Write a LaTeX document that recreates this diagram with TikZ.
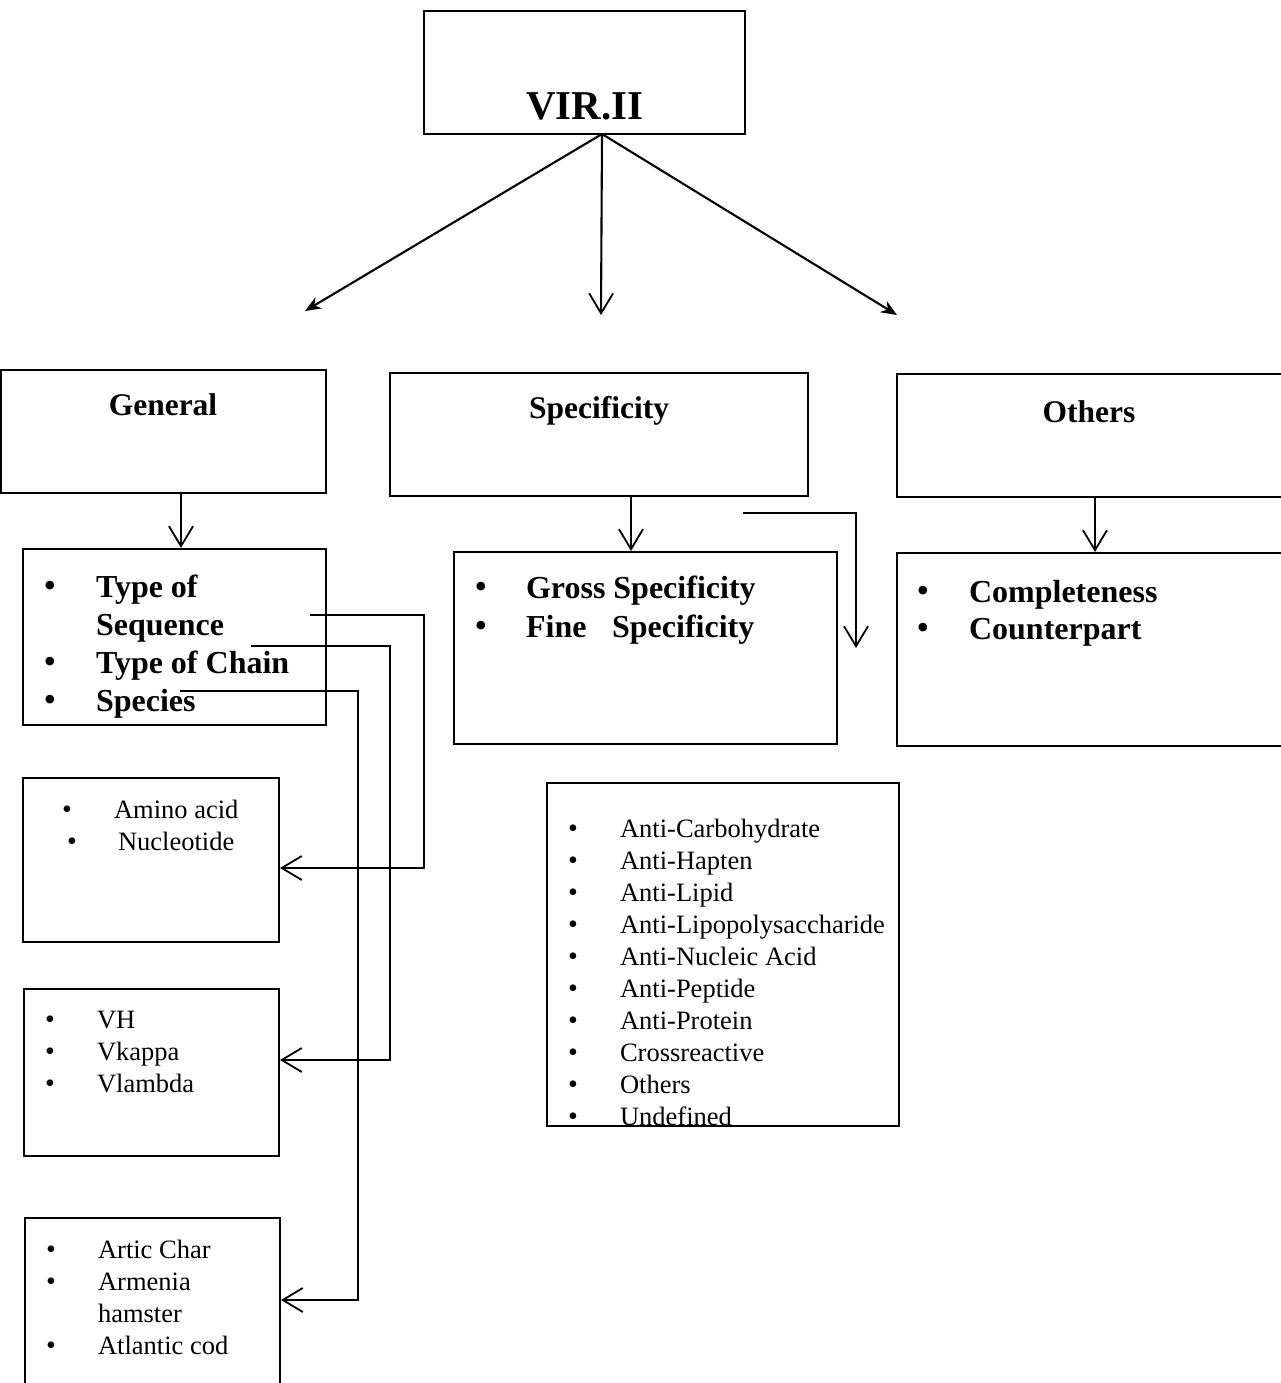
\documentclass[tikz,border=0pt]{standalone}
\usepackage{fontspec}
\setmainfont{Liberation Serif}
\usetikzlibrary{arrows.meta}
\begin{document}
\begin{tikzpicture}[x=1pt,y=-1pt,
  line width=2.1pt,
  box/.style={draw, rectangle, inner sep=0pt, line width=2.1pt},
  openarr/.style={-{Straight Barb[length=20pt,width=24pt,line width=1.8pt]}},
  fillarr/.style={-{Stealth[length=16pt,width=13pt]}},
  head/.style={anchor=base, inner sep=0pt, font=\bfseries\fontsize{31.5}{36}\selectfont},
  btxt/.style={anchor=base west, inner sep=0pt, font=\bfseries\fontsize{32}{38}\selectfont},
  rtxt/.style={anchor=base west, inner sep=0pt, font=\fontsize{26.5}{32}\selectfont},
  bbul/.style={anchor=base, inner sep=0pt, font=\fontsize{36}{38}\selectfont},
  rbul/.style={anchor=base, inner sep=0pt, font=\fontsize{28}{32}\selectfont}]
\useasboundingbox (0,0) rectangle (1281,1383);
\fill[white] (0,0) rectangle (1281,1383);

% boxes
\node[box, minimum width=321pt, minimum height=123pt] (vir) at (584.5,72.5) {};
\node[box, minimum width=325pt, minimum height=123pt] (general) at (163.5,431.5) {};
\node[box, minimum width=418pt, minimum height=123pt] (spec) at (599,434.5) {};
\node[box, minimum width=387pt, minimum height=123pt] (others) at (1090.5,435.5) {};
\node[box, minimum width=303pt, minimum height=176pt] (glist) at (174.5,637) {};
\node[box, minimum width=383pt, minimum height=192pt] (slist) at (645.5,648) {};
\node[box, minimum width=387pt, minimum height=193pt] (olist) at (1090.5,649.5) {};
\node[box, minimum width=256pt, minimum height=164pt] (amino) at (151,860) {};
\node[box, minimum width=255pt, minimum height=167pt] (vh) at (151.5,1072.5) {};
\node[box, minimum width=255pt, minimum height=174pt] (artic) at (152.5,1305) {};
\node[box, minimum width=352pt, minimum height=343pt] (anti) at (723,954.5) {};

% headings
\node[anchor=base, inner sep=0pt, font=\bfseries\fontsize{41}{46}\selectfont] (virt) at (585,120) {VIR.II};
\node[head] (gent) at (163,415) {General};
\node[head] (spect) at (599,418) {Specificity};
\node[head] (otht) at (1089,422) {Others};

% General list
\node[bbul] (gb1) at (50,597) {•};
\node[btxt] (gl1) at (95,597) {Type of};
\node[btxt] (gl2) at (95,635) {Sequence};
\node[bbul] (gb3) at (50,673) {•};
\node[btxt] (gl3) at (95,673) {Type of Chain};
\node[bbul] (gb4) at (50,711) {•};
\node[btxt] (gl4) at (95,711) {Species};

% Specificity list
\node[bbul] (sb1) at (481,598) {•};
\node[btxt] (sl1) at (525,598) {Gross Specificity};
\node[bbul] (sb2) at (481,637) {•};
\node[btxt] (sl2) at (525,637) {Fine\hspace{0.8em}Specificity};

% Others list
\node[bbul] (ob1) at (923,602) {•};
\node[btxt] (ol1) at (968,602) {Completeness};
\node[bbul] (ob2) at (923,639) {•};
\node[btxt] (ol2) at (968,639) {Counterpart};

% Amino box
\node[rbul] (ab1) at (67,818) {•};
\node[rtxt] (at1) at (113,818) {Amino acid};
\node[rbul] (ab2) at (72,850) {•};
\node[rtxt] (at2) at (117,850) {Nucleotide};

% VH box
\node[rbul] (vb1) at (50,1028) {•};
\node[rtxt] (vt1) at (96,1028) {VH};
\node[rbul] (vb2) at (50,1060) {•};
\node[rtxt] (vt2) at (96,1060) {Vkappa};
\node[rbul] (vb3) at (50,1092) {•};
\node[rtxt] (vt3) at (96,1092) {Vlambda};

% Artic box
\node[rbul] (cb1) at (51,1258) {•};
\node[rtxt] (ct1) at (97,1258) {Artic Char};
\node[rbul] (cb2) at (51,1290) {•};
\node[rtxt] (ct2) at (97,1290) {Armenia};
\node[rtxt] (ct3) at (97,1322) {hamster};
\node[rbul] (cb4) at (51,1354) {•};
\node[rtxt] (ct4) at (97,1354) {Atlantic cod};

% Anti list
\foreach \t [count=\i from 0] in {Anti-Carbohydrate,Anti-Hapten,Anti-Lipid,Anti-Lipopolysaccharide,Anti-Nucleic Acid,Anti-Peptide,Anti-Protein,Crossreactive,Others,Undefined}{
  \node[rbul] (nb\i) at (573,837+32.1*\i) {•};
  \node[rtxt] (nt\i) at (619,837+32.1*\i) {\t};
}

% top arrows
\coordinate (vo) at (602,134);
\coordinate (ta1) at (305,311);
\coordinate (ta2) at (601,315);
\coordinate (ta3) at (897,315);
\draw[fillarr] (vo) -- (ta1);
\draw[openarr] (vo) -- (ta2);
\draw[fillarr] (vo) -- (ta3);

% vertical arrows
\coordinate (gx) at (181,0);
\coordinate (sx) at (631,0);
\coordinate (ox) at (1095,0);
\draw[openarr] (general.south -| gx) -- (glist.north -| gx);
\draw[openarr] (spec.south -| sx) -- (slist.north -| sx);
\draw[openarr] (others.south -| ox) -- (olist.north -| ox);

% extra arrow
\coordinate (e1) at (743,513);
\coordinate (e2) at (856,513);
\coordinate (e3) at (856,648);
\draw[openarr] (e1) -- (e2) -- (e3);

% elbow connectors
\coordinate (s1) at (310,615);
\coordinate (k1) at (424,868);
\draw[openarr] (s1) -| (k1) -- (amino.east |- k1);
\coordinate (s2) at (251,646);
\coordinate (k2) at (390,1060);
\draw[openarr] (s2) -| (k2) -- (vh.east |- k2);
\coordinate (s3) at (180,691);
\coordinate (k3) at (358,1300);
\draw[openarr] (s3) -| (k3) -- (artic.east |- k3);
\end{tikzpicture}
\end{document}
